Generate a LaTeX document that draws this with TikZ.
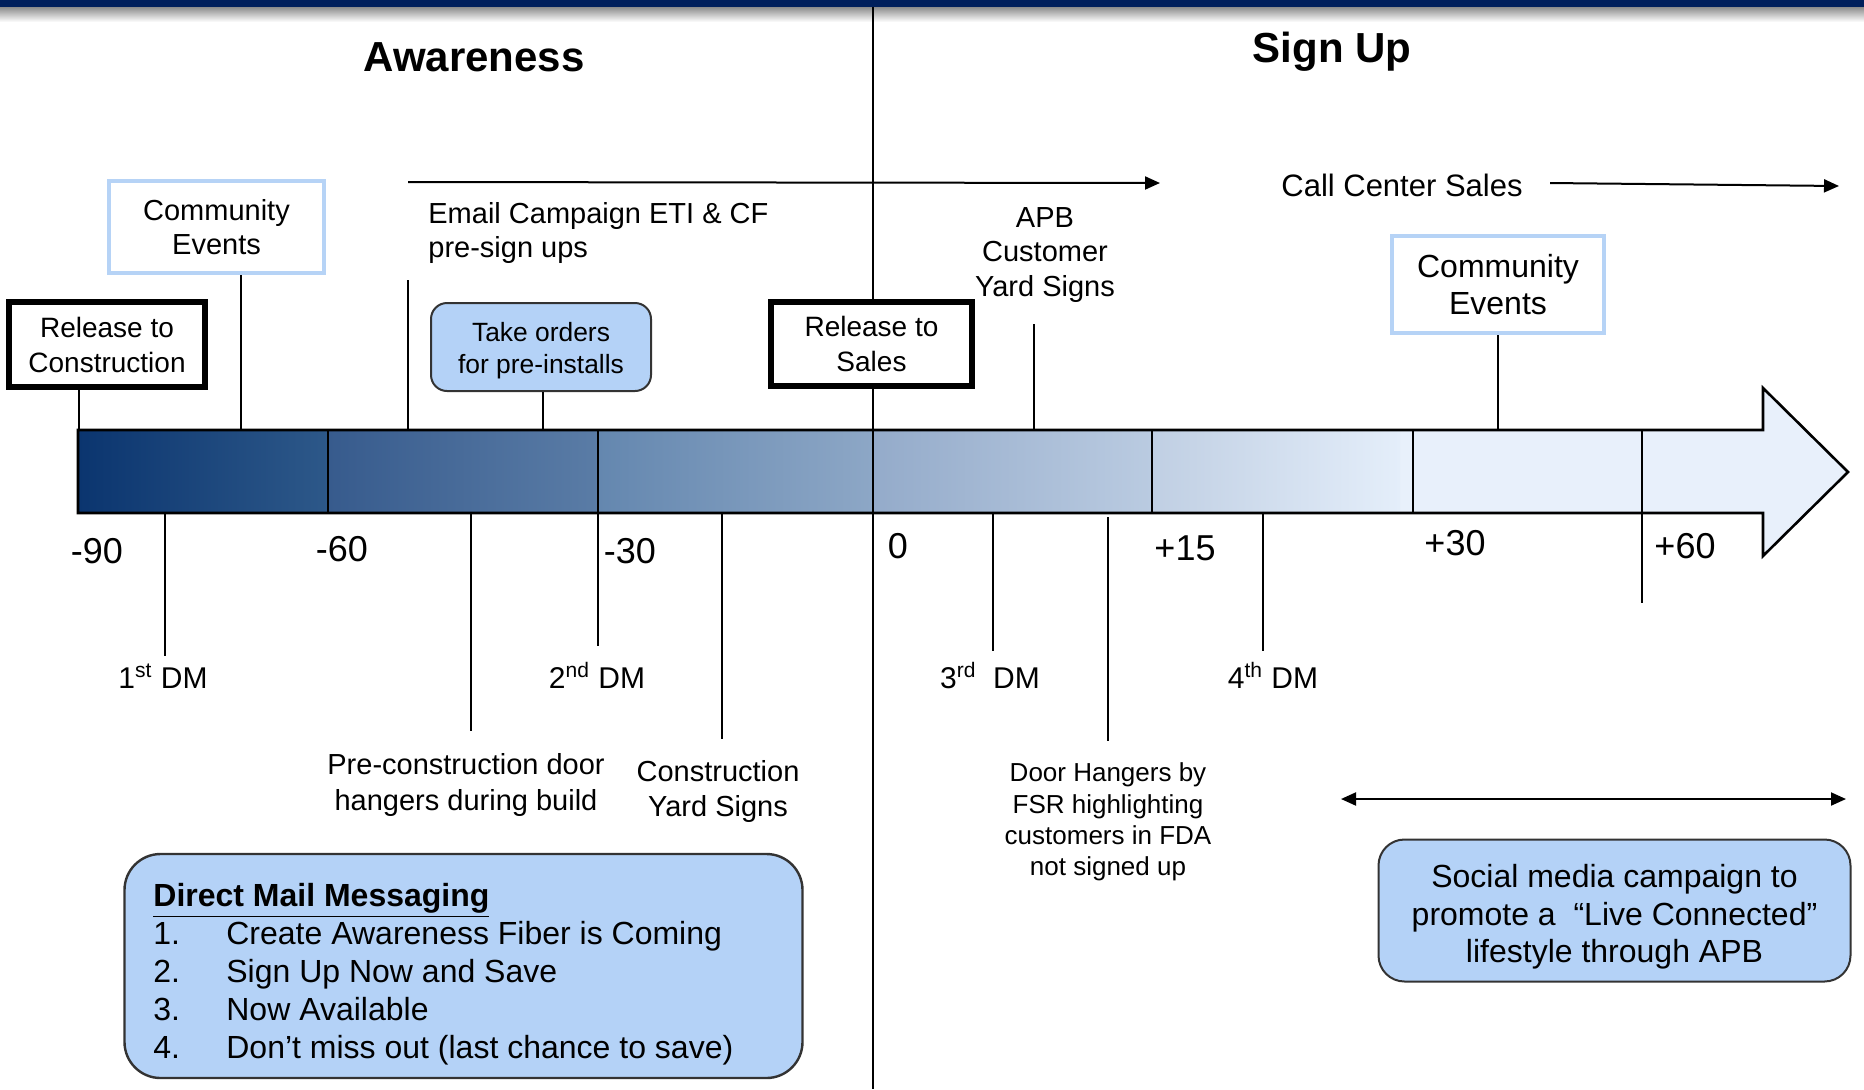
\documentclass[tikz,border=0pt]{standalone}
\usepackage{fontspec}
\setmainfont{Liberation Sans}
\usetikzlibrary{arrows.meta}
\newcommand{\fsz}[2]{\fontsize{#1pt}{#2pt}\selectfont}
\definecolor{navy}{HTML}{001F5C}
\definecolor{sAa}{HTML}{0B356F}
\definecolor{sAb}{HTML}{2D5889}
\definecolor{sBa}{HTML}{375B8D}
\definecolor{sBb}{HTML}{5A7CA6}
\definecolor{sCa}{HTML}{6487AF}
\definecolor{sCb}{HTML}{8DA7C6}
\definecolor{sDa}{HTML}{94ABCA}
\definecolor{sDb}{HTML}{BACBE1}
\definecolor{sEa}{HTML}{C0CFE3}
\definecolor{sEb}{HTML}{E4EEFA}
\definecolor{pale}{HTML}{E8F0FB}
\definecolor{boxfill}{HTML}{B4D2F7}
\definecolor{cborder}{HTML}{B6D3F6}
\begin{document}
\begin{tikzpicture}[x=0.5pt,y=-0.5pt,
  lbl/.style={inner sep=0pt, align=center, font=\fsz{14.5}{17.5}},
  blk/.style={draw=black, line width=3pt, fill=white, align=center, inner sep=0pt, font=\fsz{14}{17.5}},
  cev/.style={draw=cborder, line width=2.2pt, fill=white, align=center, inner sep=0pt},
  bbox/.style={draw=black!80, line width=1pt, fill=boxfill, inner sep=0pt},
  conn/.style={line width=0.75pt},
  tickl/.style={inner sep=0pt, font=\fsz{18}{21}, anchor=base},
  dml/.style={inner sep=0pt, font=\fsz{15}{18}, anchor=base},
  ttl/.style={inner sep=0pt, font=\fsz{21}{25}\bfseries, anchor=base},
  arr/.style={-{Triangle[length=7.5pt,width=6.5pt]}},
  barr/.style={{Triangle[length=7.5pt,width=6.5pt]}-{Triangle[length=7.5pt,width=6.5pt]}},
]
\useasboundingbox (0,0) rectangle (1864,1089);
% top band
\fill[navy] (0,0) rectangle (1864,7);
\shade[top color=black!45, bottom color=white] (0,7) rectangle (1864,22);

% timeline arrow
\fill[pale] (78,430) -- (1763,430) -- (1763,388) -- (1848,472) -- (1763,556) -- (1763,513) -- (78,513) -- cycle;
\shade[left color=sAa, right color=sAb] (78,430) rectangle (328,513);
\shade[left color=sBa, right color=sBb] (328,430) rectangle (598,513);
\shade[left color=sCa, right color=sCb] (598,430) rectangle (873,513);
\shade[left color=sDa, right color=sDb] (873,430) rectangle (1152,513);
\shade[left color=sEa, right color=sEb] (1152,430) rectangle (1400,513);
\draw[line width=1.3pt, line join=miter] (78,430) -- (1763,430) -- (1763,388) -- (1848,472) -- (1763,556) -- (1763,513) -- (78,513) -- cycle;

% main vertical divider
\coordinate (vtop) at (873,7);
\coordinate (vbot) at (873,1089);
\draw[line width=1pt] (vtop) -- (vbot);

% bar dividers
\draw[line width=1pt] (328,430) -- (328,513);
\draw[line width=1pt] (598,430) -- (598,646);
\draw[line width=1pt] (1152,430) -- (1152,513);
\draw[line width=1pt] (1413,430) -- (1413,513);
\draw[line width=0.9pt] (1642,430) -- (1642,603);

% titles
\node[ttl] (aw) at (474,71) {Awareness};
\node[ttl] (su) at (1332,62) {Sign Up};

% boxes above
\node[blk, minimum width=98pt, minimum height=42.5pt] (rtc) at (107,344.5) {Release to\\Construction};
\node[blk, minimum width=100.5pt, minimum height=42pt] (rts) at (871.5,344) {Release to\\Sales};
\node[cev, font=\fsz{14.5}{17}, minimum width=107.5pt, minimum height=46pt] (ce1) at (216.5,227) {Community\\Events};
\node[cev, font=\fsz{16}{18.5}, minimum width=106pt, minimum height=48.5pt] (ce2) at (1498,284.5) {Community\\Events};
\node[bbox, rounded corners=8pt, minimum width=110pt, minimum height=44pt] (tko) at (541,347) {};
\node[lbl, font=\fsz{13.2}{16}] (tkotext) at (541,351) {Take orders\\for pre-installs};

% labels above
\node[lbl, align=left, anchor=west, font=\fsz{14.5}{17}] (email) at (428,233) {Email Campaign ETI \& CF\\pre-sign ups};
\node[lbl, font=\fsz{14.5}{17.25}] (apb) at (1045,255) {APB\\Customer\\Yard Signs};
\node[inner sep=0pt, anchor=base, font=\fsz{15.5}{18}] (cc) at (1402,196) {Call Center Sales};

% top connectors
\coordinate (trtc) at (79,430);
\coordinate (tce1) at (241,430);
\coordinate (tem) at (408,430);
\coordinate (ttko) at (543,430);
\coordinate (tapb) at (1034,430);
\coordinate (tce2) at (1498,430);
\draw[conn] (rtc.south -| trtc) -- (trtc);
\draw[conn] (ce1.south -| tce1) -- (tce1);
\draw[conn, shorten >=8pt] (tem) -- (tem |- email.south);
\draw[conn] (tko.south -| ttko) -- (ttko);
\draw[conn, shorten >=10.5pt] (tapb) -- (tapb |- apb.south);
\draw[conn] (ce2.south -| tce2) -- (tce2);

% campaign arrows
\coordinate (ema) at (408,182);
\coordinate (emb) at (1160,183);
\draw[line width=1pt, arr] (ema) -- (emb);
\coordinate (cca) at (1550,183);
\coordinate (ccb) at (1839,186);
\draw[line width=1pt, arr] (cca) -- (ccb);

% tick labels
\node[tickl] (m90) at (97,563) {-90};
\node[tickl] (m60) at (342,561) {-60};
\node[tickl] (m30) at (630,563) {-30};
\node[tickl] (z0) at (898,558) {0};
\node[tickl] (p15) at (1185,560) {+15};
\node[tickl] (p30) at (1455,555) {+30};
\node[tickl] (p60) at (1685,558) {+60};

% DM labels
\node[dml] (dm1) at (163,688) {1\textsuperscript{st} DM};
\node[dml] (dm2) at (597,688) {2\textsuperscript{nd} DM};
\node[dml] (dm3) at (990,688) {3\textsuperscript{rd}~ DM};
\node[dml] (dm4) at (1273,688) {4\textsuperscript{th} DM};

% labels below
\node[lbl, font=\fsz{14.5}{18}] (pcd) at (466,785) {Pre-construction door\\hangers during build};
\node[lbl, font=\fsz{14.5}{17.5}] (cys) at (718,791) {Construction\\Yard Signs};
\node[lbl, font=\fsz{13}{15.7}] (dh) at (1108,822) {Door Hangers by\\FSR highlighting\\customers in FDA\\not signed up};

% bottom connectors
\coordinate (b1) at (165,514);
\coordinate (b2) at (471,514);
\coordinate (b4) at (722,514);
\coordinate (b5) at (993,514);
\coordinate (b6) at (1108,517);
\coordinate (b7) at (1263,514);
\draw[conn, shorten >=4pt] (b1) -- (b1 |- dm1.north);
\draw[conn, shorten >=11pt] (b2) -- (b2 |- pcd.north);
\draw[conn, shorten >=10.5pt] (b4) -- (b4 |- cys.north);
\draw[conn, shorten >=5.5pt] (b5) -- (b5 |- dm3.north);
\draw[conn, shorten >=10.5pt] (b6) -- (b6 |- dh.north);
\draw[conn, shorten >=5.5pt] (b7) -- (b7 |- dm4.north);

% social media
\coordinate (sma) at (1341,799);
\coordinate (smb) at (1846,799);
\draw[line width=1pt, barr] (sma) -- (smb);
\node[bbox, rounded corners=13pt, minimum width=236pt, minimum height=71pt] (soc) at (1614.5,910.5) {};
\node[lbl, font=\fsz{16}{18.75}] (soctext) at (1614.5,917) {Social media campaign to\\promote a~ “Live Connected”\\lifestyle through APB};

% direct mail
\node[bbox, line width=1.2pt, rounded corners=18pt, minimum width=339pt, minimum height=112pt] (dmbox) at (463.5,966) {};
\node[anchor=north west, inner sep=0pt, align=left, font=\fsz{16}{19}] (dmtext) at (153,883) {\underline{\textbf{Direct Mail Messaging}}\\
\makebox[36.5pt][l]{1.}Create Awareness Fiber is Coming\\
\makebox[36.5pt][l]{2.}Sign Up Now and Save\\
\makebox[36.5pt][l]{3.}Now Available\\
\makebox[36.5pt][l]{4.}Don’t miss out (last chance to save)};
\end{tikzpicture}
\end{document}
